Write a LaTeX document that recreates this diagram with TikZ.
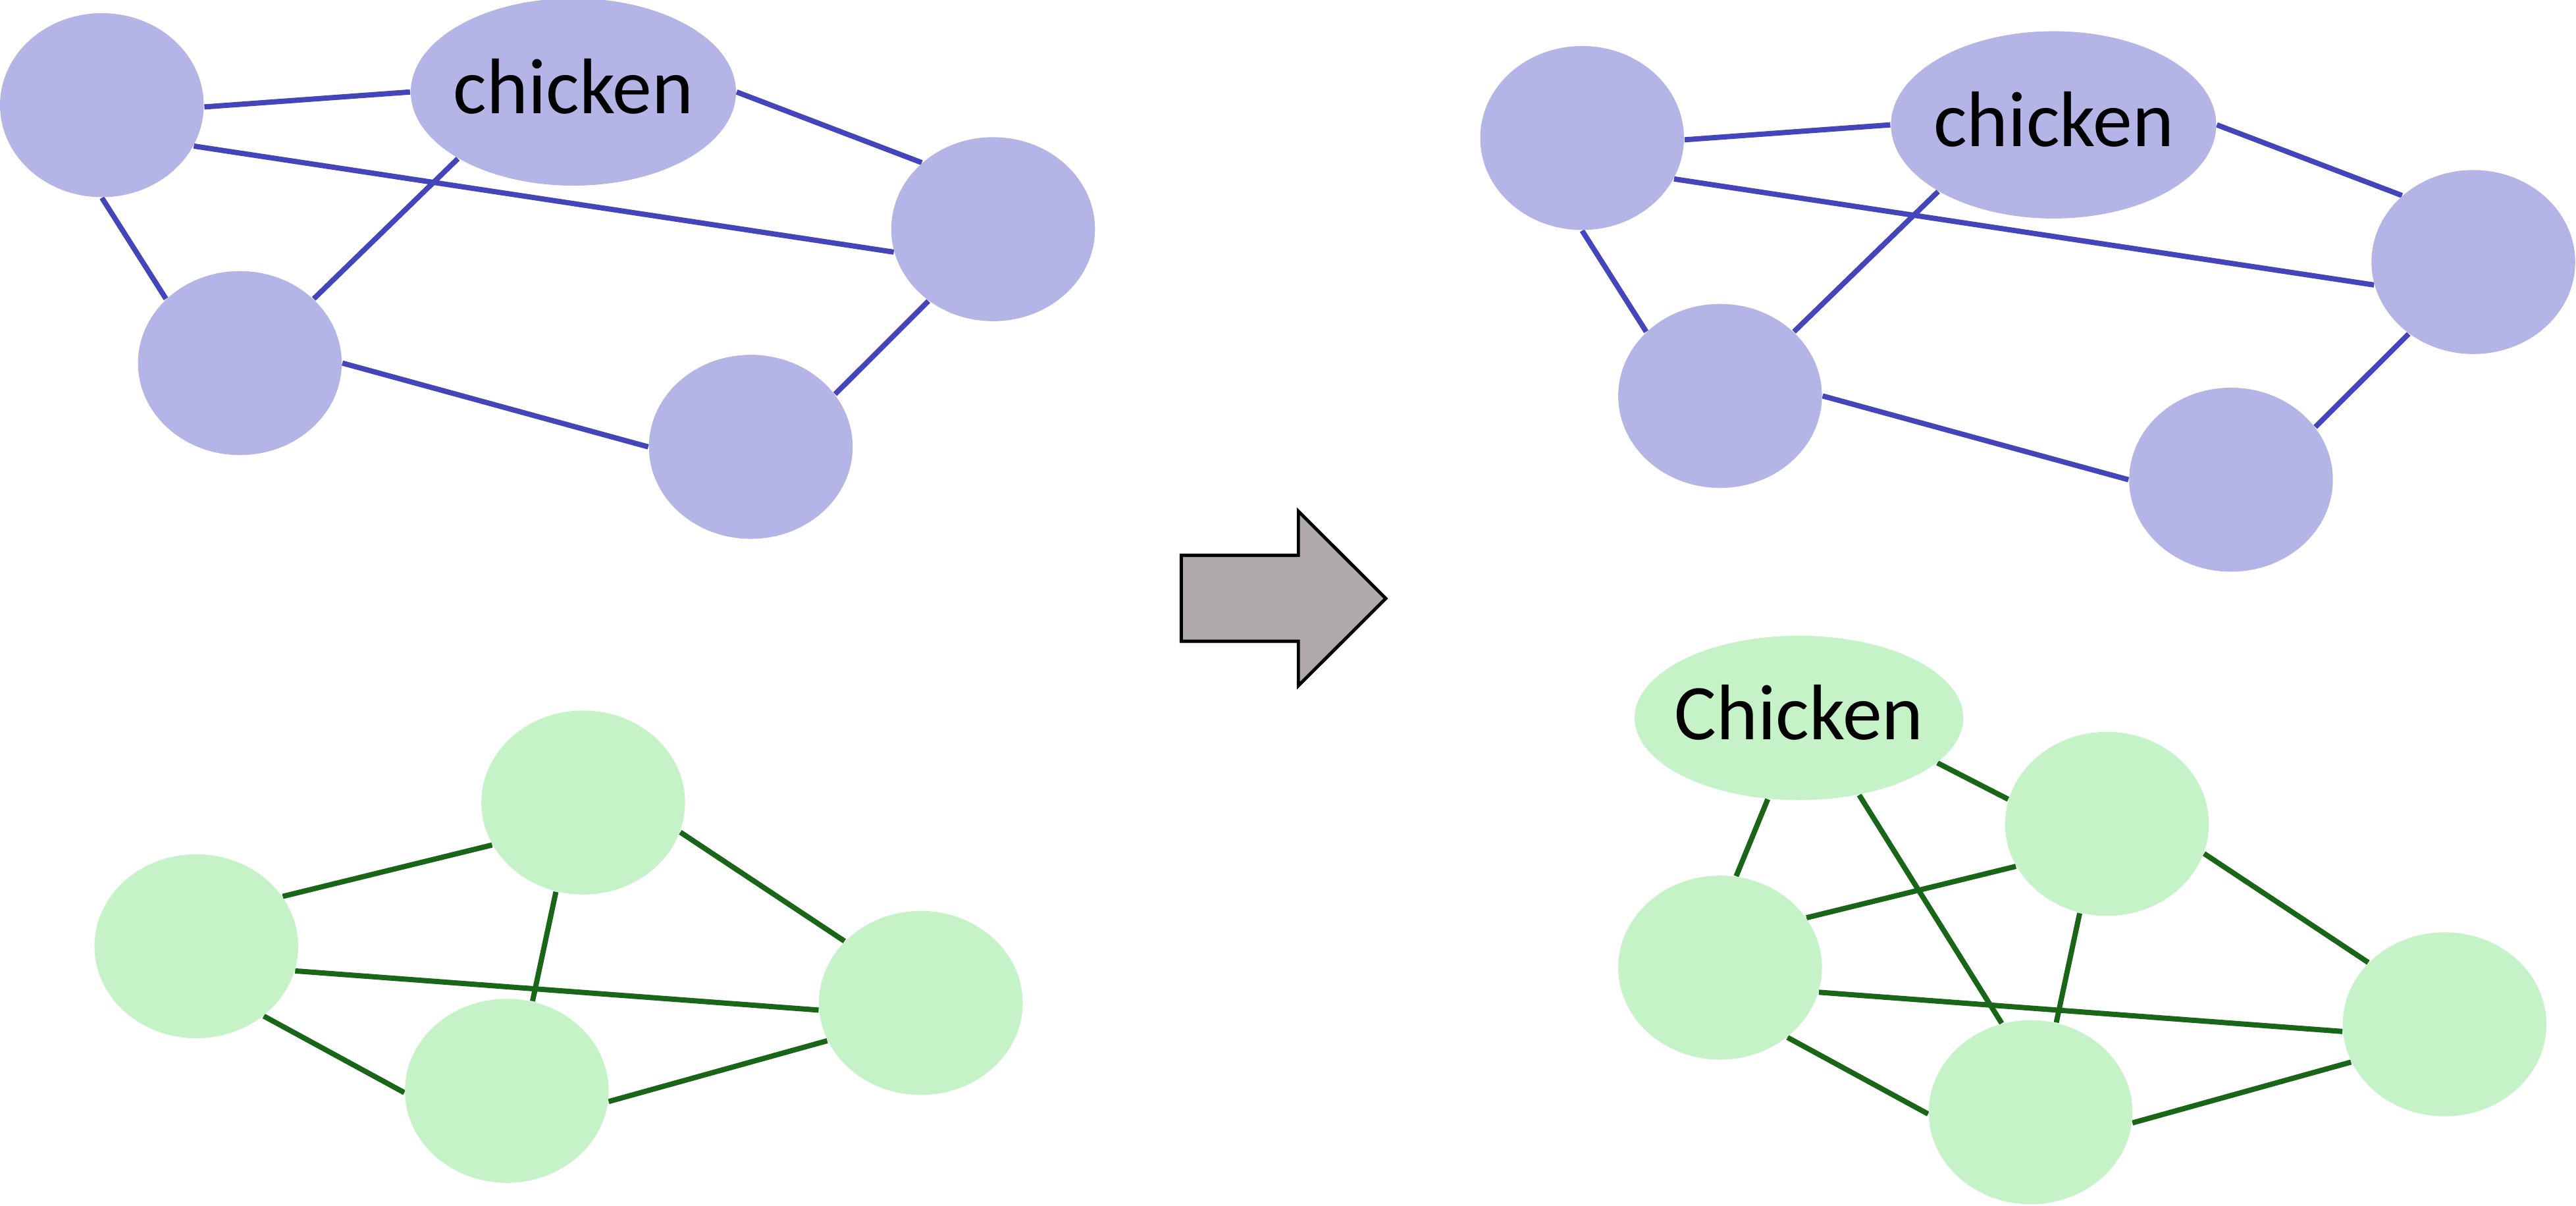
\documentclass[tikz,border=0pt]{standalone}
\usepackage{fontspec}
\setmainfont{Carlito}
\usetikzlibrary{shapes.geometric,backgrounds}
\definecolor{bluefill}{HTML}{B4B4E6}
\definecolor{blueline}{HTML}{4444BB}
\definecolor{greenfill}{HTML}{C6F2C8}
\definecolor{greenline}{HTML}{1A6619}
\definecolor{arrowgray}{HTML}{AEAAAA}
\newcommand\cklabelfont{\fontsize{24}{28}\selectfont}
\tikzset{
  bnode/.style={ellipse, fill=bluefill, draw=none, inner sep=0pt, minimum width=62pt, minimum height=56pt},
  gnode/.style={ellipse, fill=greenfill, draw=none, inner sep=0pt, minimum width=62pt, minimum height=56pt},
  bedge/.style={draw=blueline, line width=1.6pt},
  gedge/.style={draw=greenline, line width=1.6pt},
  bigarrow/.style={fill=arrowgray, draw=black, line width=1pt, line join=miter},
  cklabel/.style={font=\cklabelfont, text=black, yshift=1.6pt}
}
\begin{document}
\begin{tikzpicture}[x=0.5pt,y=-0.5pt]
\useasboundingbox (0,0) rectangle (1568,734);

% ---------- top left (blue) ----------
\node[bnode] (A) at (62,64) {};
\node[bnode, minimum width=99pt, minimum height=57pt, label={[cklabel]center:chicken}] (Ck) at (349,56) {};
\node[bnode] (B) at (604.5,139.5) {};
\node[bnode] (C) at (146,221) {};
\node[bnode] (D) at (457,272) {};

% ---------- top right (blue) ----------
\node[bnode] (A2) at (963,84) {};
\node[bnode, minimum width=99pt, minimum height=57pt, label={[cklabel]center:chicken}] (Ck2) at (1250,76) {};
\node[bnode] (B2) at (1505.5,159.5) {};
\node[bnode] (C2) at (1047,241) {};
\node[bnode] (D2) at (1358,292) {};

% ---------- bottom left (green) ----------
\node[gnode] (E) at (119.5,576) {};
\node[gnode] (F) at (355,488.5) {};
\node[gnode] (G) at (560.5,610.5) {};
\node[gnode] (H) at (308.5,664) {};

% ---------- bottom right (green) ----------
\node[gnode, minimum width=100pt, minimum height=50pt, label={[cklabel]center:Chicken}] (K) at (1095,437) {};
\node[gnode] (E2) at (1047,589) {};
\node[gnode] (F2) at (1282.5,501.5) {};
\node[gnode] (G2) at (1488,623.5) {};
\node[gnode] (H2) at (1236,677) {};

\begin{pgfonlayer}{background}
% top left edges
\draw[bedge] (A.-1) -- (Ck.180);
\draw[bedge] (A.-24) -- (B.-167);
\draw[bedge] (A.-90) -- (C.139);
\draw[bedge] (C.41.5) -- (Ck.-150);
\draw[bedge] (Ck.0) -- (B.137);
\draw[bedge] (C.0) -- (D.180);
\draw[bedge] (D.32) -- (B.-132);
% top right edges
\draw[bedge] (A2.-1) -- (Ck2.180);
\draw[bedge] (A2.-24) -- (B2.-167);
\draw[bedge] (A2.-90) -- (C2.139);
\draw[bedge] (C2.41.5) -- (Ck2.-150);
\draw[bedge] (Ck2.0) -- (B2.137);
\draw[bedge] (C2.0) -- (D2.180);
\draw[bedge] (D2.32) -- (B2.-132);
% bottom left edges
\draw[gedge] (E.30) -- (F.-155.6);
\draw[gedge] (F.-17.4) -- (G.141.7);
\draw[gedge] (F.-107) -- (H.74);
\draw[gedge] (E.-14.4) -- (G.-176);
\draw[gedge] (H.-6.5) -- (G.-158);
\draw[gedge] (E.-46.7) -- (H.-179);
% bottom right edges
\draw[gedge] (E2.30) -- (F2.-155.6);
\draw[gedge] (F2.-17.4) -- (G2.141.7);
\draw[gedge] (F2.-107) -- (H2.74);
\draw[gedge] (E2.-14.4) -- (G2.-176);
\draw[gedge] (H2.-6.5) -- (G2.-158);
\draw[gedge] (E2.-46.7) -- (H2.-179);
\draw[gedge] (K.-111.8) -- (E2.80);
\draw[gedge] (K.-18.6) -- (F2.166);
\draw[gedge] (K.-52.5) -- (H2.108.3);
\end{pgfonlayer}

% ---------- block arrow ----------
\draw[bigarrow] (719,338) -- (790.3,338) -- (790.3,311.2) -- (843.5,364.3)
  -- (790.3,417.4) -- (790.3,390.3) -- (719,390.3) -- cycle;
\end{tikzpicture}
\end{document}
